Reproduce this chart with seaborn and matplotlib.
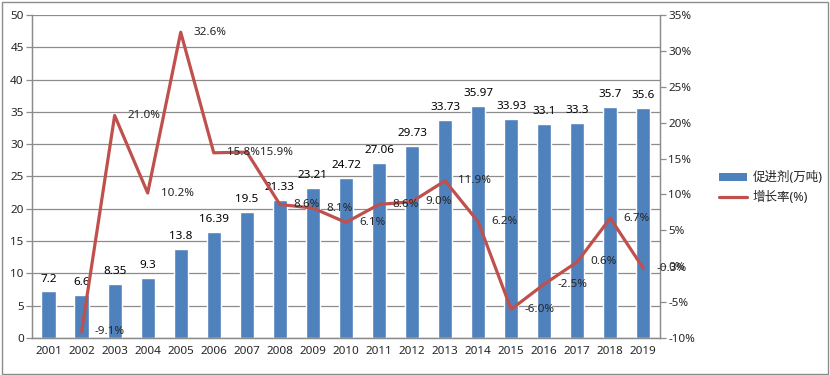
import numpy as np
import pandas as pd
import matplotlib
matplotlib.use('Agg')
import matplotlib.pyplot as plt
import seaborn as sns
from matplotlib.patches import Rectangle, Patch
from matplotlib.lines import Line2D
from matplotlib.ticker import FuncFormatter, FixedLocator

years = ['2001', '2002', '2003', '2004', '2005', '2006', '2007', '2008', '2009', '2010',
         '2011', '2012', '2013', '2014', '2015', '2016', '2017', '2018', '2019']
output = [7.2, 6.6, 8.35, 9.3, 13.8, 16.39, 19.5, 21.33, 23.21, 24.72,
          27.06, 29.73, 33.73, 35.97, 33.93, 33.1, 33.3, 35.7, 35.6]
# growth rate starts in 2002
growth = [-9.1, 21.0, 10.2, 32.6, 15.8, 15.9, 8.6, 8.1, 6.1, 8.6,
          9.0, 11.9, 6.2, -6.0, -2.5, 0.6, 6.7, -0.3]
bar_name = '促进剂(万吨)'
line_name = '增长率(%)'

sns.set_style('white')
plt.rcParams['font.family'] = ['Noto Sans', 'Noto Sans CJK SC', 'DejaVu Sans']
plt.rcParams['font.size'] = 8.4

bar_color = '#4F81BD'
line_color = '#C0504D'
grid_color = '#8C8C8C'

df_bar = pd.DataFrame({'year': years, 'value': output})
df_line = pd.DataFrame({'pos': np.arange(1, len(years)), 'rate': growth})

fig = plt.figure(figsize=(8.3, 3.75), dpi=100)
ax = fig.add_axes([0.0386, 0.0987, 0.7564, 0.8613])

sns.barplot(data=df_bar, x='year', y='value', color=bar_color, width=0.43,
            saturation=1, ax=ax, zorder=2)
ax.bar_label(ax.containers[0], labels=[f'{v:g}' for v in output], padding=5,
             fontsize=8.4, color='black')

ax.set_ylim(0, 50)
ax.set_yticks(range(0, 51, 5))
ax.set_xlim(-0.5, len(years) - 0.5)
ax.yaxis.grid(True, color=grid_color, linewidth=0.9, zorder=0)
ax.set_axisbelow(True)
ax.set_xlabel('')
ax.set_ylabel('')
for s in ['top']:
    ax.spines[s].set_visible(False)
for s in ['left', 'bottom', 'right']:
    ax.spines[s].set_color(grid_color)
    ax.spines[s].set_linewidth(0.9)
ax.tick_params(axis='x', which='major', length=0, pad=6, labelsize=8.4)
ax.xaxis.set_minor_locator(FixedLocator(np.arange(-0.5, len(years), 1)))
ax.tick_params(axis='x', which='minor', length=4, color=grid_color, width=0.9)
ax.tick_params(axis='y', length=4, color=grid_color, width=0.9, labelsize=8.4, pad=2)

ax2 = ax.twinx()
sns.lineplot(data=df_line, x='pos', y='rate', color=line_color, linewidth=2.3,
             ax=ax2, zorder=3)
for p, r in zip(df_line['pos'], df_line['rate']):
    ax2.annotate(f'{r:.1f}%', (p, r), xytext=(9.5, 0), textcoords='offset points',
                 ha='left', va='center', fontsize=8.4, zorder=4)
ax2.set_ylim(-10, 35)
ax2.set_yticks(range(-10, 36, 5))
ax2.yaxis.set_major_formatter(FuncFormatter(lambda v, _: f'{v:.0f}%'))
ax2.set_xlim(-0.5, len(years) - 0.5)
ax2.set_xlabel('')
ax2.set_ylabel('')
ax2.spines['top'].set_visible(False)
for s in ['left', 'bottom', 'right']:
    ax2.spines[s].set_color(grid_color)
    ax2.spines[s].set_linewidth(0.9)
ax2.tick_params(axis='y', length=4, color=grid_color, width=0.9, labelsize=8.4, pad=2)

handles = [Patch(facecolor=bar_color, edgecolor='none'),
           Line2D([], [], color=line_color, linewidth=2.3)]
fig.legend(handles, [bar_name, line_name], loc='center left',
           bbox_to_anchor=(0.853, 0.5), frameon=False, fontsize=9,
           handlelength=2.2, handleheight=0.6, handletextpad=0.5, labelspacing=0.5)

fig.add_artist(Rectangle((0.002, 0.003), 0.995, 0.993, transform=fig.transFigure,
                         fill=False, edgecolor='#8C8C8C', linewidth=1))

fig.savefig('out.png', dpi=100)
